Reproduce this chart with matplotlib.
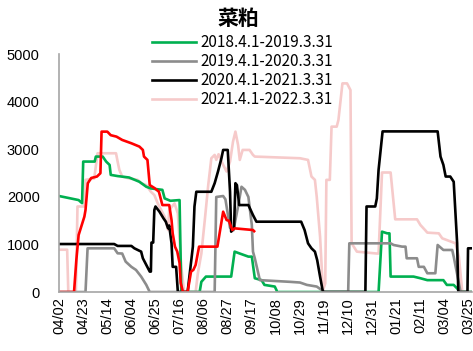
import matplotlib
matplotlib.use("Agg")
import matplotlib.pyplot as plt

plt.rcParams['font.family'] = ['Liberation Sans', 'Noto Sans CJK SC', 'DejaVu Sans']

# day offsets counted from 04/02, values in tonnes
tick_days = list(range(0, 358, 21))
tick_labels = ["04/02", "04/23", "05/14", "06/04", "06/25", "07/16", "08/06", "08/27",
               "09/17", "10/08", "10/29", "11/19", "12/10", "12/31", "01/21", "02/11",
               "03/04", "03/25"]

# 2018.4.1-2019.3.31
g_day = [0, 17, 20, 21, 31, 32, 38, 41, 44, 45, 51, 61, 70, 76, 80, 90, 92, 97, 105, 106.5,
         122.5, 124, 128, 150, 153, 157.5, 165, 168, 170.6, 176.5, 179, 188, 189.5, 190,
         278.5, 281.5, 286, 288, 289, 309, 315, 321, 335, 338, 344, 350, 360]
g_val = [2020, 1935, 1870, 2745, 2745, 2850, 2850, 2745, 2675, 2465, 2440, 2410, 2320, 2215,
         2180, 2150, 1970, 1920, 1935, 0,
         0, 215, 325, 325, 850, 810, 745, 745, 290, 250, 150, 115, 40, 0,
         0, 1270, 1235, 1235, 325, 325, 290, 250, 250, 150, 150, 0, 0]

# 2019.4.1-2020.3.31
s_day = [0, 23, 24.8, 48, 51, 55, 58, 63, 67, 71.5, 76, 79,
         135.6, 137, 143, 145, 149, 152, 156, 159, 162, 165, 168, 169, 170.6, 175,
         201, 210, 216, 224.6, 229, 232,
         252, 253, 289, 291.6, 299, 302, 303, 312, 313.5, 318, 321, 328, 330, 335, 342.7,
         344, 348.5, 350, 360]
s_val = [0, 0, 920, 920, 815, 810, 640, 530, 465, 325, 150, 0,
         0, 2000, 2020, 1950, 1350, 1300, 1800, 2215, 2150, 2000, 1410, 850, 710, 250,
         215, 200, 150, 115, 40, 0,
         0, 1025, 1025, 990, 955, 955, 710, 710, 530, 530, 395, 395, 990, 885, 885,
         745, 190, 0, 0]

# 2020.4.1-2021.3.31
b_day = [0, 48, 51, 63, 65.6, 71.5, 73, 76, 79, 80, 80.5, 82, 83, 84, 87.5, 91, 93, 95, 96,
         98, 99, 102, 103.5,
         112, 116.6, 118, 119.6, 132.7, 135.6, 138.5, 141.5, 143, 147, 149, 150, 152.5,
         153.7, 155, 157, 165, 169, 172, 211, 214, 217, 220, 223, 225, 227.5, 230,
         267, 268, 275.6, 277, 278.5, 282, 330, 332.5, 335, 337, 341, 344, 347, 348,
         356, 356.5, 360]
b_val = [1010, 1010, 970, 970, 920, 850, 710, 570, 430, 430, 1040, 1040, 1725, 1800, 1690,
         1550, 1480, 1340, 1400, 1025, 530, 530, 0,
         0, 955, 1800, 2110, 2110, 2290, 2535, 2815, 2990, 2990, 2110, 1270, 1340,
         2290, 2250, 1830, 1830, 1620, 1480, 1480, 1305, 1025, 920, 850, 670, 325, 0,
         0, 1800, 1800, 1970, 2570, 3380, 3380, 2850, 2675, 2430, 2430, 2320, 1025, 0,
         0, 920, 920]

# 2021.4.1-2022.3.31
p_day = [0, 7, 8, 14.6, 16, 22, 23, 30.6, 33.5, 49.6, 51, 52.5, 55, 61, 68.5, 71.5, 76, 80,
         83, 86, 89, 92, 95, 96, 100.6, 103.5, 106.5, 109,
         119, 121, 124, 127, 130, 132.7, 135.6, 137, 139, 143, 146, 149, 151.6, 153.7,
         156, 157.5, 160, 166, 169, 170.6, 210, 217, 220, 223, 224.6, 227.5, 230, 232,
         233, 236, 237.5, 242, 243.5, 247, 251, 254, 255, 259.6, 277, 278.5, 281.5, 289,
         293, 312, 315, 319, 321, 331, 334, 345.6, 348.5, 351.5, 360]
p_val = [890, 890, 0, 0, 1800, 1800, 2360, 2390, 2920, 2920, 2745, 2570, 2430, 2390, 2360,
         2290, 2250, 2110, 2040, 1865, 1725, 1585, 1305, 1725, 1865, 1655, 530, 0,
         0, 400, 810, 1515, 2250, 2815, 2885, 2780, 2900, 2675, 2535, 2745, 3165, 3375,
         3095, 2780, 2990, 2990, 2885, 2850, 2815, 2780, 2430, 2360, 2000, 1165, 40, 180,
         2360, 2360, 3480, 3480, 3620, 4390, 4390, 4250, 1025, 850, 810, 810, 2515, 2515,
         1530, 1530, 1410, 1305, 1250, 1235, 1130, 1025, 745, 0, 0]

# current season (2022)
r_day = [0, 13, 15, 17, 22, 23, 25, 28, 33, 36, 37, 42, 45, 50, 55, 63, 70, 73, 74, 77, 79,
         83, 87, 90, 96, 98, 99, 101, 103, 105, 106, 108, 112, 115, 117, 119, 122, 138, 143,
         146, 148, 151, 153, 169, 170]
r_val = [0, 0, 670, 1200, 1585, 1725, 2290, 2400, 2430, 2500, 3375, 3375, 3300, 3270, 3200,
         3130, 3060, 2990, 2850, 2780, 2250, 2190, 2110, 1830, 1830, 1515, 1235, 955, 850,
         610, 190, 0, 0, 430, 465, 570, 955, 955, 1690, 1515, 1500, 1305, 1340, 1305, 1280]

fig = plt.figure(figsize=(4.73, 3.51), dpi=100)
ax = fig.add_axes([0.125, 0.168, 0.873, 0.677])

lw = 1.9
lp, = ax.plot(p_day, p_val, color='#F6CACA', lw=lw, label="2021.4.1-2022.3.31")
lg, = ax.plot(g_day, g_val, color='#00B050', lw=lw, label="2018.4.1-2019.3.31")
ls, = ax.plot(s_day, s_val, color='#8C8C8C', lw=lw, label="2019.4.1-2020.3.31")
lb, = ax.plot(b_day, b_val, color='black', lw=lw, label="2020.4.1-2021.3.31")
ax.plot(r_day, r_val, color='#FF0000', lw=lw)

ax.set_xlim(0, 360)
ax.set_ylim(0, 5000)
ax.set_yticks([0, 1000, 2000, 3000, 4000, 5000])
ax.set_xticks(tick_days)
ax.set_xticklabels(tick_labels, rotation=90)
ax.tick_params(length=0, labelsize=10.5, pad=4)
ax.tick_params(axis='y', pad=14)

for side in ['top', 'right']:
    ax.spines[side].set_visible(False)
for side in ['left', 'bottom']:
    ax.spines[side].set_color('#A6A6A6')
    ax.spines[side].set_linewidth(1.2)

fig.text(0.503, 0.948, "菜粕", ha='center', va='center', fontsize=15,
         fontweight='bold', family=['Noto Sans CJK SC', 'DejaVu Sans'])

fig.legend(handles=[lg, ls, lb, lp], loc='upper left', bbox_to_anchor=(0.321, 0.902),
           frameon=False, borderpad=0, borderaxespad=0, handlelength=2.9,
           handletextpad=0.3, labelspacing=0.12,
           prop={'family': ['Noto Sans CJK SC', 'DejaVu Sans'], 'size': 11})

fig.savefig("out.png", dpi=100)
